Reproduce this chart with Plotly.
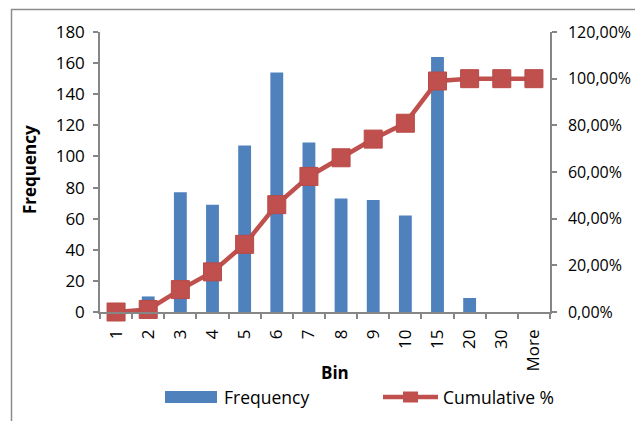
import plotly.graph_objects as go

# Histogram bins and counts
bins = ["1", "2", "3", "4", "5", "6", "7", "8", "9", "10", "15", "20", "30", "More"]
frequency = [0, 10, 77, 69, 107, 154, 109, 73, 72, 62, 164, 9, 0, 0]
cumulative_pct = [0.0, 0.011, 0.096, 0.172, 0.290, 0.460, 0.581, 0.661, 0.741, 0.809, 0.990, 1.0, 1.0, 1.0]

freq_ticks = list(range(0, 181, 20))
pct_ticks = [0.0, 0.2, 0.4, 0.6, 0.8, 1.0, 1.2]

BAR_BLUE = "#4F81BD"
LINE_RED = "#C0504D"
AXIS_GREY = "#868686"
FONT = "Open Sans"

W, H = 635, 421
ML, MR, MT, MB = 100, 85, 32, 109


def px_x(px):
    return (px - ML) / (W - ML - MR)


def px_y(py):
    return (H - MB - py) / (H - MT - MB)


fig = go.Figure()

fig.add_trace(go.Bar(
    x=bins, y=frequency, name="Frequency",
    marker=dict(color=BAR_BLUE, line=dict(width=0)),
    yaxis="y",
))

fig.add_trace(go.Scatter(
    x=bins, y=cumulative_pct, name="Cumulative %",
    mode="lines+markers",
    line=dict(color=LINE_RED, width=4.5),
    marker=dict(symbol="square", size=18, color=LINE_RED,
                line=dict(color="#B94A47", width=1)),
    yaxis="y2", cliponaxis=False,
))

axis_common = dict(
    showgrid=False, zeroline=False, showline=True, automargin=False,
    linecolor=AXIS_GREY, linewidth=1.5,
    ticks="outside", ticklen=5, tickcolor=AXIS_GREY, tickwidth=1.5,
    tickfont=dict(family=FONT, size=17, color="black"),
)

# Legend keys drawn in the bottom margin, plus the chart area border
legend_shapes = [
    dict(type="rect", xref="paper", yref="paper",
         x0=px_x(165), x1=px_x(217), y0=px_y(403), y1=px_y(391),
         fillcolor=BAR_BLUE, line=dict(width=0)),
    dict(type="line", xref="paper", yref="paper",
         x0=px_x(383), x1=px_x(438), y0=px_y(397), y1=px_y(397),
         line=dict(color=LINE_RED, width=4.5)),
    dict(type="rect", xref="paper", yref="paper",
         x0=px_x(403), x1=px_x(418), y0=px_y(402.5), y1=px_y(391.5),
         fillcolor=LINE_RED, line=dict(width=0)),
    dict(type="rect", xref="paper", yref="paper",
         x0=px_x(11.5), x1=px_x(700), y0=px_y(480), y1=px_y(9.5),
         fillcolor="rgba(0,0,0,0)", line=dict(color="#8C8C8C", width=1.5)),
]

text_font = dict(family=FONT, size=17, color="black")
annotations = [
    dict(text="<b>Bin</b>", xref="paper", yref="paper",
         x=px_x(335), y=px_y(372), xanchor="center", yanchor="middle",
         showarrow=False, font=text_font),
    dict(text="<b>Frequency</b>", xref="paper", yref="paper",
         x=px_x(29), y=px_y(170), xanchor="center", yanchor="middle",
         showarrow=False, textangle=-90, font=text_font),
    dict(text=fig.data[0].name, xref="paper", yref="paper",
         x=px_x(222), y=px_y(397), xanchor="left", yanchor="middle",
         showarrow=False, font=dict(family=FONT, size=17.5, color="black")),
    dict(text=fig.data[1].name, xref="paper", yref="paper",
         x=px_x(441), y=px_y(397), xanchor="left", yanchor="middle",
         showarrow=False, font=dict(family=FONT, size=17.5, color="black")),
]

right_axis = dict(axis_common)
right_axis["tickfont"] = dict(family=FONT, size=16, color="black")

fig.update_layout(
    template="none",
    width=W, height=H,
    margin=dict(l=ML, r=MR, t=MT, b=MB, pad=0, autoexpand=False),
    paper_bgcolor="white", plot_bgcolor="white",
    font=dict(family=FONT, color="black"),
    separators=",.",
    showlegend=False,
    bargap=0.6,
    xaxis=dict(**axis_common, type="category", tickson="boundaries",
               tickangle=-90, range=[-0.5, len(bins) - 0.5],
               ticklabelstandoff=9),
    yaxis=dict(**axis_common, range=[0, 180], tickvals=freq_ticks,
               ticklabelstandoff=5),
    yaxis2=dict(**right_axis, range=[0, 1.2], tickvals=pct_ticks,
                tickformat=".2%", overlaying="y", side="right",
                ticklabelstandoff=8),
    shapes=legend_shapes,
    annotations=annotations,
)

fig.write_html("out.html")
